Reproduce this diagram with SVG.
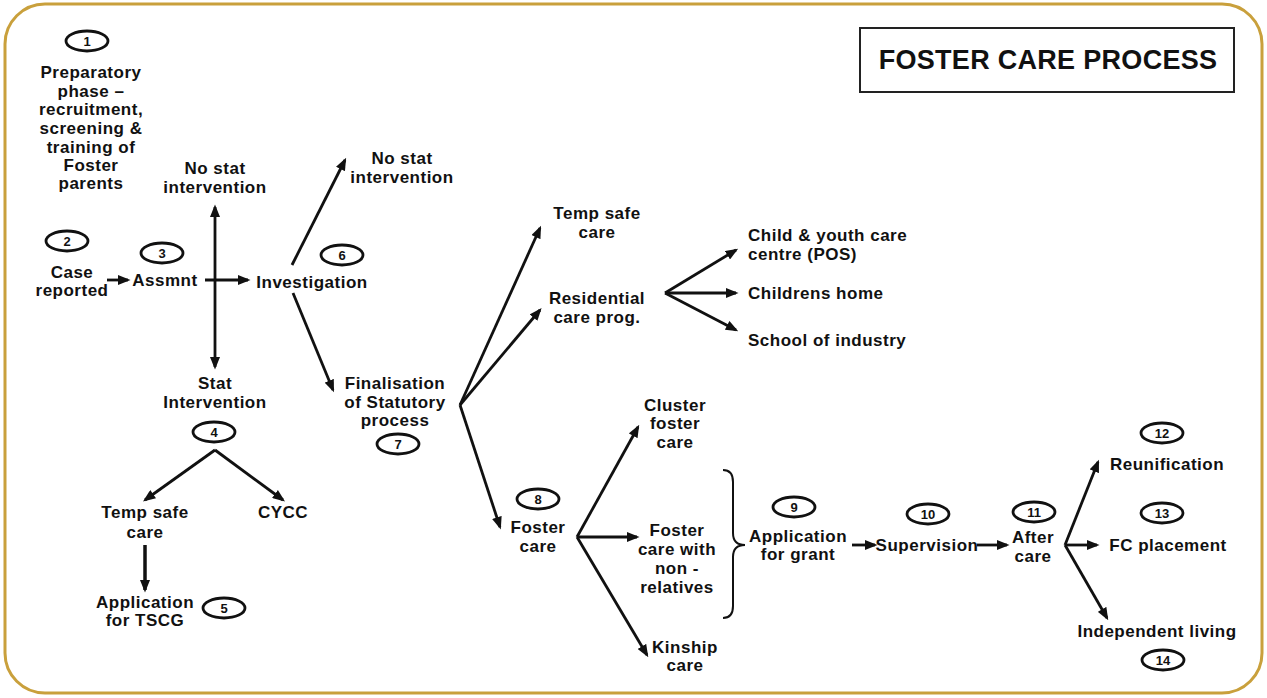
<svg xmlns="http://www.w3.org/2000/svg" width="1267" height="698" viewBox="0 0 1267 698">
<style>
.t{font-family:"Liberation Sans",Arial,sans-serif;font-weight:bold;font-size:17px;letter-spacing:0.5px;fill:#111;text-anchor:middle;dominant-baseline:central}
.l{text-anchor:start}
.n{font-family:"Liberation Sans",Arial,sans-serif;font-weight:bold;font-size:13px;fill:#111;text-anchor:middle;dominant-baseline:central}
.e{fill:#fff;stroke:#111;stroke-width:2.8}
.c{stroke:#111;stroke-width:2.8;fill:none;marker-end:url(#ah)}
</style>
<defs>
<marker id="ah" viewBox="0 0 10 8" refX="8" refY="4" markerWidth="13" markerHeight="10" markerUnits="userSpaceOnUse" orient="auto">
<path d="M0,0 L10,4 L0,8 z" fill="#111"/>
</marker>
</defs>
<rect x="0" y="0" width="1267" height="698" fill="#fff"/>
<rect x="5" y="4" width="1257" height="689" rx="40" ry="40" fill="#fff" stroke="#c9a03c" stroke-width="3"/>

<g id="title">
<rect x="860" y="28" width="374" height="64" fill="#fff" stroke="#222" stroke-width="2"/>
<text class="t" x="1048" y="60" style="font-size:27px;letter-spacing:0.3px">FOSTER CARE PROCESS</text>
</g>

<g id="connectors">
<path class="c" d="M107,280 L128,280"/>
<path class="c" d="M205,280 L248,280"/>
<path class="c" d="M215,280 L215,207"/>
<path class="c" d="M215,280 L215,367"/>
<path class="c" d="M215,450 L145,500"/>
<path class="c" d="M215,450 L283,500"/>
<path class="c" d="M145,545 L145,590" style="stroke-width:3.5"/>
<path class="c" d="M292,265 L345,160"/>
<path class="c" d="M293,293 L333,390"/>
<path class="c" d="M460,405 L540,228"/>
<path class="c" d="M460,405 L540,310"/>
<path class="c" d="M460,405 L500,527"/>
<path class="c" d="M665,293 L736,250"/>
<path class="c" d="M665,293 L736,293"/>
<path class="c" d="M665,293 L736,330"/>
<path class="c" d="M577,537 L638,427"/>
<path class="c" d="M577,537 L637,537"/>
<path class="c" d="M577,537 L647,655"/>
<path class="c" d="M852,545 L875,545"/>
<path class="c" d="M977,545 L1007,545"/>
<path class="c" d="M1065,545 L1098,462"/>
<path class="c" d="M1065,545 L1097,545"/>
<path class="c" d="M1065,545 L1107,618"/>
<path d="M723,470 Q733,470 733,482 L733,533 Q733,545 745,545 Q733,545 733,557 L733,606 Q733,618 723,618" fill="none" stroke="#111" stroke-width="2"/>
</g>

<g id="n1">
<ellipse class="e" cx="87" cy="41" rx="21" ry="10"/><text class="n" x="87" y="41">1</text>
<text class="t" x="91"><tspan x="91" y="72">Preparatory</tspan><tspan x="91" y="91">phase –</tspan><tspan x="91" y="109">recruitment,</tspan><tspan x="91" y="128">screening &amp;</tspan><tspan x="91" y="147">training of</tspan><tspan x="91" y="165">Foster</tspan><tspan x="91" y="183">parents</tspan></text>
</g>
<g id="n2">
<ellipse class="e" cx="67" cy="241" rx="21" ry="10"/><text class="n" x="67" y="241">2</text>
<text class="t"><tspan x="72" y="272">Case</tspan><tspan x="72" y="290">reported</tspan></text>
</g>
<g id="n3">
<ellipse class="e" cx="162" cy="253" rx="21" ry="10"/><text class="n" x="162" y="253">3</text>
<text class="t" x="165" y="280">Assmnt</text>
</g>
<g id="n-nostat1">
<text class="t"><tspan x="215" y="168">No stat</tspan><tspan x="215" y="187">intervention</tspan></text>
</g>
<g id="n4">
<text class="t"><tspan x="215" y="383">Stat</tspan><tspan x="215" y="402">Intervention</tspan></text>
<ellipse class="e" cx="214" cy="432" rx="21" ry="10"/><text class="n" x="214" y="432">4</text>
</g>
<g id="n-tsc1">
<text class="t"><tspan x="145" y="512">Temp safe</tspan><tspan x="145" y="532">care</tspan></text>
</g>
<g id="n-cycc">
<text class="t" x="283" y="512">CYCC</text>
</g>
<g id="n5">
<text class="t"><tspan x="145" y="602">Application</tspan><tspan x="145" y="620">for TSCG</tspan></text>
<ellipse class="e" cx="224" cy="608" rx="21" ry="10"/><text class="n" x="224" y="608">5</text>
</g>
<g id="n6">
<ellipse class="e" cx="342" cy="255" rx="21" ry="10"/><text class="n" x="342" y="255">6</text>
<text class="t" x="312" y="282">Investigation</text>
</g>
<g id="n-nostat2">
<text class="t"><tspan x="402" y="158">No stat</tspan><tspan x="402" y="177">intervention</tspan></text>
</g>
<g id="n7">
<text class="t"><tspan x="395" y="383">Finalisation</tspan><tspan x="395" y="402">of Statutory</tspan><tspan x="395" y="420">process</tspan></text>
<ellipse class="e" cx="398" cy="444" rx="21" ry="10"/><text class="n" x="398" y="444">7</text>
</g>
<g id="n-tsc2">
<text class="t"><tspan x="597" y="213">Temp safe</tspan><tspan x="597" y="232">care</tspan></text>
</g>
<g id="n-res">
<text class="t"><tspan x="597" y="298">Residential</tspan><tspan x="597" y="317">care prog.</tspan></text>
</g>
<g id="n-cyc">
<text class="t l"><tspan x="748" y="235">Child &amp; youth care</tspan><tspan x="748" y="254">centre (POS)</tspan></text>
</g>
<g id="n-ch">
<text class="t l" x="748" y="293">Childrens home</text>
</g>
<g id="n-si">
<text class="t l" x="748" y="340">School of industry</text>
</g>
<g id="n8">
<ellipse class="e" cx="538" cy="499" rx="21" ry="10"/><text class="n" x="538" y="499">8</text>
<text class="t"><tspan x="538" y="527">Foster</tspan><tspan x="538" y="546">care</tspan></text>
</g>
<g id="n-cluster">
<text class="t"><tspan x="675" y="405">Cluster</tspan><tspan x="675" y="423">foster</tspan><tspan x="675" y="442">care</tspan></text>
</g>
<g id="n-nonrel">
<text class="t"><tspan x="677" y="530">Foster</tspan><tspan x="677" y="549">care with</tspan><tspan x="677" y="568">non -</tspan><tspan x="677" y="587">relatives</tspan></text>
</g>
<g id="n-kin">
<text class="t"><tspan x="685" y="647">Kinship</tspan><tspan x="685" y="665">care</tspan></text>
</g>
<g id="n9">
<ellipse class="e" cx="794" cy="507" rx="21" ry="10"/><text class="n" x="794" y="507">9</text>
<text class="t"><tspan x="798" y="536">Application</tspan><tspan x="798" y="554">for grant</tspan></text>
</g>
<g id="n10">
<ellipse class="e" cx="928" cy="514" rx="21" ry="10"/><text class="n" x="928" y="514">10</text>
<text class="t" x="927" y="545">Supervision</text>
</g>
<g id="n11">
<ellipse class="e" cx="1034" cy="512" rx="21" ry="10"/><text class="n" x="1034" y="512">11</text>
<text class="t"><tspan x="1033" y="537">After</tspan><tspan x="1033" y="556">care</tspan></text>
</g>
<g id="n12">
<ellipse class="e" cx="1162" cy="433" rx="21" ry="10"/><text class="n" x="1162" y="433">12</text>
<text class="t" x="1167" y="464">Reunification</text>
</g>
<g id="n13">
<ellipse class="e" cx="1162" cy="513" rx="21" ry="10"/><text class="n" x="1162" y="513">13</text>
<text class="t" x="1168" y="545">FC placement</text>
</g>
<g id="n14">
<text class="t" x="1157" y="631">Independent living</text>
<ellipse class="e" cx="1163" cy="660" rx="21" ry="10"/><text class="n" x="1163" y="660">14</text>
</g>
</svg>
